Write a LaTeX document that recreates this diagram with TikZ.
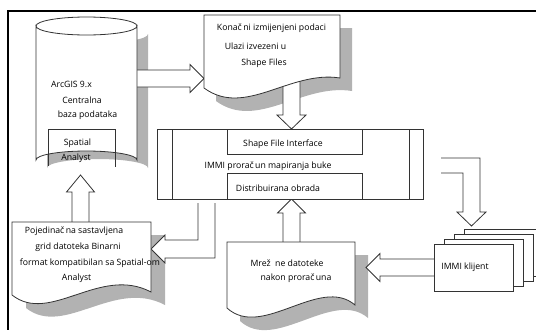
\documentclass[tikz,border=0pt]{standalone}
\usepackage{fontspec}
\setmainfont{Open Sans}

\tikzset{
  shp/.style={draw=black!80, line width=0.8pt, fill=white},
  shadowfill/.style={fill=black!30, draw=none},
  barrow/.style={draw=black!80, line width=0.8pt, fill=white, line join=miter},
  frameline/.style={draw=black, line width=1.6pt},
  txt/.style={font=\fontsize{8.7}{10}\selectfont, inner sep=0pt},
}

% 形状的路径
\newcommand{\cylpath}{(36,26) -- (36,160) arc[start angle=180, end angle=360, x radius=50.5, y radius=9] -- (137,26) arc[start angle=0, end angle=180, x radius=50.5, y radius=9] -- cycle}
\newcommand{\docKonacni}{(204,15) -- (340,15) -- (340,78) .. controls (290,70) and (245,118) .. (204,88) -- cycle}
\newcommand{\docGrid}{(12,222) -- (151,222) -- (151,292) .. controls (100,265) and (50,325) .. (12,295) -- cycle}
\newcommand{\docMreze}{(227,242) -- (355,242) -- (355,305) .. controls (320,275) and (262,340) .. (227,308) -- cycle}

\begin{document}
\begin{tikzpicture}[x=1pt,y=-1pt]
\useasboundingbox (0,0) rectangle (536,330);

% 外框
\draw[frameline] (536,11) -- (8,11) -- (8,330);

% 阴影
\fill[shadowfill, shift={(11,8)}] \cylpath;
\fill[shadowfill, shift={(12,13)}] \docKonacni;
\fill[shadowfill, shift={(14,13)}] \docGrid;
\fill[shadowfill, shift={(13,13)}] \docMreze;

% 块状箭头
\draw[barrow] (130,70) -- (190,70) -- (190,64.5) -- (204,78.5) -- (190,92.5) -- (190,87) -- (130,87);
\draw[barrow] (283,80) -- (283,115) -- (277,115) -- (291.5,129) -- (306,115) -- (300,115) -- (300,80);
\draw[barrow] (198,203) -- (198,240) -- (165,240) -- (165,235) -- (151,249) -- (165,263) -- (165,258) -- (215,258) -- (215,203);
\draw[barrow] (72,230) -- (72,192) -- (66.5,192) -- (80.5,175) -- (94.5,192) -- (89,192) -- (89,230);
\draw[barrow] (441,158) -- (480,158) -- (480,212) -- (486,212) -- (471.5,226) -- (457,212) -- (463,212) -- (463,173) -- (441,173);
\draw[barrow] (440,259) -- (380,259) -- (380,253.5) -- (366,267.5) -- (380,281.5) -- (380,276) -- (440,276);
\draw[barrow] (283,250) -- (283,213) -- (277.5,213) -- (291.5,199) -- (305.5,213) -- (300,213) -- (300,250);

% 数据库圆柱
\draw[shp] \cylpath;
\draw[shp, fill=none] (36,26) arc[start angle=180, end angle=360, x radius=50.5, y radius=9];
\draw[shp, fill=none] (48,166) -- (48,129) -- (115,129) -- (115,167);

% 文档
\draw[shp] \docKonacni;
\draw[shp] \docGrid;
\draw[shp] \docMreze;

% 处理框
\draw[shp] (157,129) rectangle (423,199);
\draw[shp] (172,129) -- (172,199);
\draw[shp] (409,129) -- (409,199);
\draw[shp] (227,129) rectangle (362,154);
\draw[shp] (227,173) rectangle (362,199);

% 客户端叠放
\foreach \i in {3,2,1,0} {
    \draw[shp] (434+10*\i,244-5*\i) rectangle ++(79,47);
}

% 文字
\node[txt] (arcgis) at (71.5,84) {ArcGIS 9.x};
\node[txt] (centralna) at (82,100) {Centralna};
\node[txt] (baza) at (87.5,115) {baza podataka};
\node[txt] (spatial) at (77.5,143) {Spatial};
\node[txt] (analyst) at (76,158) {Analyst};

\node[txt] (konacni) at (271.5,28) {Konač\,ni izmijenjeni podaci};
\node[txt] (ulazi) at (255.5,46) {Ulazi izvezeni u};
\node[txt] (shapefiles) at (264,63) {Shape Files};

\node[txt] (sfi) at (283,144) {Shape File Interface};
\node[txt] (immi) at (268,166) {IMMI prorač\,un mapiranja buke};
\node[txt] (distrib) at (278,188) {Distribuirana obrada};

\node[txt] (pojed) at (74,231) {Pojedinač\,na sastavljena};
\node[txt] (grid) at (78,247) {grid datoteka Binarni};
\node[txt] (format) at (90,263) {format kompatibilan sa Spatial-om};
\node[txt] (analyst2) at (76.5,278) {Analyst};

\node[txt] (mreze) at (287,263) {Mrež\ \ ne datoteke};
\node[txt] (nakon) at (296,278) {nakon prorač\,una};

\node[txt] (klijent) at (465,267) {IMMI klijent};
\end{tikzpicture}
\end{document}
